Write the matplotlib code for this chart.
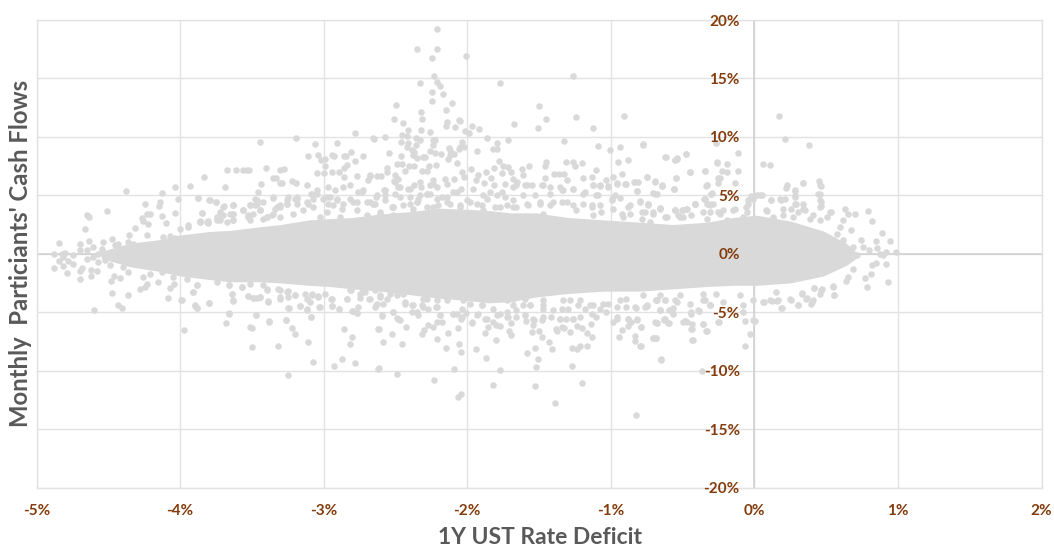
import matplotlib
matplotlib.use("Agg")
import matplotlib.pyplot as plt

# Values, in percent: (1Y UST rate deficit, monthly flows)
left_upper = [(-4.374,5.34),(-4.509,3.63),(-4.65,3.29),(-4.636,3.15),(-4.66,2.15),(-4.84,.95),(-4.695,.87),(-4.632,1.09),(-4.534,1.04),(-4.474,1.26),
(-4.88,0),(-4.825,-.05),(-4.80,.07),(-4.697,.29),(-4.743,-.13),(-4.65,.35),(-4.609,.58),(-4.546,.44),(-4.453,.72),(-4.43,.86),(-4.325,.86),(-4.233,1.58),(-4.116,1.44),(-4.07,1.49),(-4.035,1.38),(-4.36,1.01),(-4.0,2.15),(-3.942,2.29),(-3.861,2.8),(-3.803,2.8),(-3.745,2.86),(-3.71,3.29),(-3.629,3.43),(-3.629,4.14),(-3.559,3.72),(-3.513,4.14),(-3.629,2.86),(-3.525,3.15),(-3.443,3.72),(-3.397,3.15),(-3.327,4.0),(-3.258,4.29),(-3.188,4.71),
(-3.831,6.54),(-3.929,5.80),(-4.035,5.71),(-4.123,5.23),(-4.017,4.69),(-4.14,4.4),(-4.149,4.12),(-4.242,4.29),(-4.209,3.43),(-4.228,3.43),(-4.265,3.09),(-4.26,2.8),(-4.221,2.58),(-4.128,3.2),(-4.10,2.63),(-4.033,3.49),(-4.311,2.23),(-4.358,1.58),(-3.873,4.77),(-3.794,4.63),(-3.75,4.46),(-3.85,3.52),(-3.685,5.68),(-3.671,7.2),(-3.608,7.2),(-3.559,7.2),(-3.536,7.14),(-3.518,7.2),(-3.446,9.53),(-3.193,9.88),(-3.058,9.42),(-2.905,9.48),(-2.782,10.33),(-2.652,9.82),(-3.399,7.31),(-3.304,7.2),(-3.276,7.22),(-3.35,6.51),(-3.334,6.51),(-3.304,6.08),(-3.29,6.05),(-3.439,6.0),(-3.455,5.28),(-3.22,6.22),(-3.193,6.08),(-3.109,8.34),(-3.037,8.42),(-3.021,8.0),(-2.99,8.1),(-2.99,7.54),(-2.944,8.48),(-2.93,8.39),(-2.858,8.34),(-2.842,8.39),(-2.81,8.73),(-2.728,8.34),(-2.782,7.91),(-2.835,7.62),(-2.86,7.37),(-2.891,7.0),(-2.94,7.02),(-3.0,6.88),(-3.049,6.91),(-3.113,5.85),(-2.677,6.71),(-2.689,6.34),(-2.765,6.63),(-2.858,6.57),
(-3.861,2.72),(-3.815,2.72),(-3.745,3.15),(-3.722,2.86),(-3.698,4.0),(-3.629,4.14),(-3.652,3.43),(-3.559,3.72),(-3.478,4.14),(-3.443,3.72),(-3.478,4.71),(-3.397,3.15),(-3.35,3.43),(-3.304,4.0),(-3.257,4.29),(-3.35,4.86),(-3.246,4.86),(-3.188,4.86),(-3.118,4.43),(-3.072,4.71),(-3.049,5.43),(-3.09,5.14),(-2.979,4.86),(-2.967,5.71),(-2.921,5.43),(-2.909,4.71),(-2.933,4.14),(-2.863,4.29),(-2.863,5.71),(-2.816,5.86),(-2.793,4.43),(-2.724,5.43),(-2.758,5.29),(-2.677,4.43),(-2.642,4.29),(-2.631,5.0),(-2.573,5.43),(-2.515,4.0),(-2.468,5.71),(-2.503,6.14),(-2.399,5.57),(-2.352,4.43),(-2.283,5.14),(-2.213,5.71),(-2.236,6.28),(-2.143,4.43)]

left_lower = [(-4.88,-1.25),(-4.84,-.59),(-4.813,-1.05),(-4.79,-1.62),(-4.697,-2.13),(-4.697,-1.47),(-4.685,-1.19),(-4.618,-1.36),(-4.581,-1.44),(-4.62,-1.93),(-4.483,-2.33),(-4.46,-1.87),(-4.416,-2.04),(-4.472,-3.35),(-4.36,-3.55),(-4.597,-4.78),(-4.435,-4.35),(-4.402,-4.64),(-4.28,-3.04),(-4.233,-2.56),(-4.244,-2.84),(-4.151,-2.41),(-4.084,-3.81),(-4.07,-2.9),(-4.042,-2.61),(-3.991,-3.98),(-3.975,-6.49),(-3.908,-3.30),(-3.896,-4.41),(-3.88,-4.67),(-3.796,-4.18),(-3.659,-5.09),(-3.678,-5.95),(-3.638,-3.44),(-3.629,-4.04),(-3.529,-3.58),(-3.471,-5.27),(-3.51,-6.24),(-3.497,-6.38),(-3.497,-7.97),(-3.378,-5.81),(-3.316,-7.86),(-3.26,-5.69),(-3.218,-6.35),(-3.202,-6.89),(-3.251,-10.4),(-3.111,-7.58),(-3.072,-9.29),(-3.09,-5.41),(-2.858,-6.46),(-2.803,-7.09),(-2.819,-7.69),(-2.87,-8.97),(-2.93,-9.57),(-2.784,-9.31),(-2.62,-9.83),(-2.62,-6.46),(-2.798,-4.92),(-2.768,-5.09),(-2.891,-4.75),(-2.94,-4.44),(-3.025,-4.58),(-3.118,-4.78),(-3.165,-4.5),(-3.244,-4.67),(-3.388,-4.1),(-3.443,-3.7),(-3.467,-3.78),(-3.49,-3.75),
(-4.743,-.85),(-4.813,-.28),(-4.778,-.65),(-4.65,-.42),(-4.569,.01),(-4.523,-.56),(-4.604,-.28),(-4.5,-.2),(-4.45,-.3),(-4.488,-.99),(-4.569,-.70),(-4.395,-1.13),(-4.36,-1.56),(-4.256,-1.99),(-4.209,-1.7),(-4.128,-1.56),(-4.047,-1.99),(-3.954,-2.13),(-3.884,-2.7),(-3.745,-2.41),(-3.659,-2.7),(-3.571,-2.84),(-3.513,-2.56),(-3.42,-2.7),(-3.397,-3.07),(-3.304,-3.13),(-3.258,-3.27),(-3.304,-3.84),(-3.2,-3.55),(-3.118,-3.84),(-3.083,-3.55),(-3.037,-3.7),(-2.944,-3.84),(-2.99,-3.41),(-2.84,-3.84),(-2.817,-3.13),(-2.747,-3.41),(-2.712,-3.27),(-2.677,-3.9),(-2.643,-3.13)]

middle_upper = [(-2.209,19.26),(-2.351,17.49),(-2.209,17.55),(-2.244,16.78),(-2.01,16.89),(-2.23,15.18),(-2.332,14.64),(-2.209,14.73),(-2.188,14.35),(-1.773,14.58),(-1.26,15.24),(-2.244,13.84),(-2.167,13.7),(-2.244,13.1),(-2.109,12.9),(-2.499,12.76),(-2.151,12.33),(-2.321,12.13),(-2.314,11.53),(-2.509,11.56),(-2.45,11.22),(-2.139,11.28),(-2.149,10.96),(-2.056,11.45),(-2.051,11.33),(-2.084,10.82),(-1.965,10.96),(-1.921,10.7),(-2.016,10.53),(-1.991,10.36),(-1.675,11.08),(-1.499,12.64),(-1.448,11.53),(-1.506,10.79),(-1.239,11.73),(-1.123,10.79),(-.909,11.76),(-2.411,10.59),(-2.321,10.59),(-2.258,10.45),(-2.457,10.19),(-2.418,10.05),(-2.576,10.02),(-2.655,9.88),(-2.36,9.91),(-2.33,9.76),(-2.46,9.59),(-2.411,9.51),(-2.237,9.71),(-2.221,9.74),(-2.237,9.34),(-1.861,9.88),(-1.719,9.76),(-1.794,9.48),(-1.329,9.65),(-2.035,9.56),(-2.021,9.14),(-2.056,9.0),(-2.047,9.14),(-2.128,9.08),(-2.121,8.85),(-2.355,9.28),(-2.418,9.14),(-2.383,8.91),(-2.369,8.71),(-1.817,8.99),(-1.791,8.94),(-1.931,8.79),(-2.258,8.79),(-2.223,8.62),(-2.186,8.57),(-2.548,8.65),(-2.46,8.34),(-2.381,8.42),(-2.307,8.28),(-2.295,8.28),(-2.353,8.2),(-2.121,8.42),(-2.093,8.57),(-2.133,8.14),(-2.07,7.8),(-1.78,7.97),(-1.086,9.22),(-1.007,8.88),(-.939,9.11),(-.775,9.34),(-.264,9.51),(-.473,8.57),(-.621,8.31),(-.538,8.2),(-.552,8.02),(-.949,7.88),(-.879,8.05),(-1.315,7.88),(-1.26,7.85),(-1.248,7.48),(-1.199,7.74),(-1.45,7.85),(-1.455,7.54),(-1.568,7.51),(-1.617,7.28),(-1.10,7.2),(-.925,6.86),(-.259,7.83),(-.447,7.03),(-.343,7.11),(-.747,6.6),(-.547,6.46),(-.689,6.2),(-.642,5.83),(-.559,5.57),(-.334,5.83),(-.252,6.51),(-.299,5.15),(-.895,5.97),(-.837,6.14),(-.809,6.11),(-.816,5.34),(-.983,6.6),(-1.03,6.34),(-1.13,6.54),(-1.076,5.77),(-1.127,5.91),(-1.016,5.77),(-.96,5.97),(-1.192,6.51),(-1.399,6.8),(-1.362,6.86),(-1.325,6.86),(-1.61,6.77),(-1.715,7.43),(-1.75,7.51),(-1.696,7.0),(-1.68,6.43),(-1.652,6.14),(-1.455,6.49),(-1.308,6.34),(-1.975,7.23),(-2.033,7.0),(-2.021,6.57),(-1.866,7.0),(-1.812,7.34),(-1.761,6.94),(-1.831,6.48),(-1.94,6.29),(-1.924,6.77),(-1.884,6.06),(-1.814,5.91),(-1.738,6.0),(-2.557,7.0),(-2.557,7.34),(-2.627,6.66),(-2.601,6.66),(-2.678,6.63),(-2.504,6.71),(-2.481,6.43),(-2.511,6.2),(-2.492,7.71),(-2.457,7.71),(-2.434,7.06),(-2.404,7.51),(-2.369,7.51),(-2.318,7.06),(-2.279,7.06),(-2.265,7.53),(-2.214,7.57),(-2.33,6.14),(-2.32,5.74),(-2.237,6.0),(-2.26,5.86),(-2.156,6.43),(-2.144,5.97),(-2.093,6.43),(-2.369,5.89),(-2.481,5.72),(-2.411,5.57),(-2.578,5.43),
(-2.632,4.86),(-2.574,5.0),(-2.504,5.14),(-2.399,4.86),(-2.33,5.0),(-2.26,5.14),(-2.179,4.86),(-2.098,5.29),(-2.04,5.57),(-1.958,5.57),(-1.889,5.0),(-1.842,5.29),(-1.761,5.29),(-1.68,5.72),(-1.599,5.86),(-1.552,5.86),(-1.482,5.86),(-1.425,5.72),(-1.343,5.43),(-1.262,5.57),(-1.181,5.29),(-1.1,5.0),(-.995,4.72),(-.937,4.77),(-.867,4.15),(-.798,4.49),(-.74,4.2),(-.658,3.95),(-.554,3.72),(-.496,3.72),(-.415,4.23),(-.345,4.69),(-.287,4.29),
(-2.608,3.58),(-2.527,4.0),(-2.446,4.15),(-2.353,4.43),(-2.283,4.0),(-2.202,4.15),(-2.121,4.29),(-2.051,4.0),(-1.982,4.43),(-1.9,4.15),(-1.808,4.0),(-1.726,4.15),(-1.657,4.0),(-1.575,4.15),(-1.494,4.29),(-1.425,4.15),(-1.343,4.43),(-1.262,4.15),(-1.192,4.29),(-1.134,4.0),(-1.065,3.58),(-.983,3.86),(-.925,3.43),(-.786,3.0),(-.705,3.58),(-.624,3.15),(-.531,3.29),(-.438,3.29),(-.31,3.58)]

middle_lower = [(-2.611,-9.79),(-2.492,-10.25),(-2.23,-10.76),(-2.093,-9.82),(-2.04,-12.02),(-2.065,-12.25),(-1.821,-11.22),(-1.773,-9.94),(-1.87,-8.88),(-1.94,-8.17),(-2.044,-8.37),(-2.054,-7.68),(-2.151,-8.05),(-2.209,-7.26),(-2.59,-7.51),(-2.613,-6.43),(-2.453,-7.74),(-2.525,-6.83),(-2.423,-6.23),(-2.314,-6.83),(-2.30,-6.49),(-2.27,-6.09),(-2.237,-6.29),(-2.135,-6.74),(-2.063,-6.32),(-2.592,-5.29),(-2.492,-5.52),(-2.469,-5.66),(-2.209,-5.83),(-2.174,-5.86),(-2.04,-5.55),(-1.968,-5.89),(-1.873,-5.55),(-1.856,-6.26),(-1.877,-6.74),(-1.819,-5.83),(-1.80,-6.09),(-1.773,-6.14),(-1.798,-7.37),(-1.708,-6.6),(-1.696,-6.97),(-1.694,-5.92),(-1.587,-8.51),(-1.529,-8.08),(-1.51,-9.0),(-1.52,-9.65),(-1.527,-11.33),(-1.387,-12.73),(-1.202,-11.02),(-1.269,-9.62),(-1.269,-8.05),(-1.236,-8.11),(-1.216,-7.88),(-1.169,-7.88),(-1.408,-8.17),(-1.427,-7.54),(-1.478,-7.09),(-1.501,-6.63),(-1.548,-6.66),(-1.54,-6.12),(-1.592,-5.72),(-1.536,-5.63),(-1.476,-5.63),(-1.385,-6.4),(-1.378,-6.6),(-1.343,-6.26),(-1.325,-6.32),(-1.281,-6.71),(-1.234,-6.2),(-1.202,-6.37),(-1.169,-6.74),(-1.13,-7.11),(-1.139,-6.0),(-.946,-7.11),(-.923,-6.49),(-.879,-6.2),(-.879,-5.6),(-.856,-5.86),(-.788,-6.23),(-.816,-5.63),(-.83,-7.03),(-.828,-7.43),(-.795,-7.88),(-.705,-7.17),(-.682,-7.17),(-.677,-5.94),(-.628,-5.63),(-.598,-5.92),(-.647,-9.05),(-.821,-13.76),(-.368,-9.99),(-.431,-7.37),(-.438,-6.46),(-.334,-6.63),(-.361,-5.97),(-.484,-5.75),(-.466,-5.83),(-.252,-5.83),(-.988,-5.83),(-.96,-5.55),
(-2.608,-3.69),(-2.539,-3.41),(-2.632,-4.4),(-2.516,-4.98),(-2.388,-4.98),(-2.341,-5.26),(-2.306,-4.55),(-2.434,-4.26),(-2.214,-4.55),(-2.19,-5.26),(-2.098,-5.12),(-2.07,-5.12),(-2.005,-5.06),(-1.935,-5.26),(-1.9,-4.4),(-1.796,-5.26),(-1.726,-4.98),(-1.715,-5.4),(-1.657,-5.4),(-1.599,-5.26),(-1.68,-4.4),(-1.564,-4.4),(-1.471,-4.69),(-1.413,-5.4),(-1.355,-5.55),(-1.309,-5.55),(-1.262,-5.55),(-1.343,-4.69),(-1.216,-5.4),(-1.181,-4.69),(-1.1,-5.4),(-1.03,-4.98),(-1.123,-4.4),(-.891,-4.55),(-.826,-4.6),(-.751,-4.49),(-.658,-4.78),(-.577,-4.89),(-.542,-4.12),(-.438,-5.12),(-.387,-4.92),(-.31,-4.4),(-.345,-3.98),(-.682,-3.98),(-.96,-4.55),(-1.285,-3.98),(-1.471,-3.98),(-1.61,-4.4),(-1.726,-3.98),(-2.028,-3.98),(-2.376,-4.4),(-2.283,-3.83),(-2.585,-4.26),(-2.446,-3.41)]

right_points = [(.169,11.79),(.213,9.82),(.378,9.34),(.062,7.71),(.106,7.63),(-.112,8.65),(-.189,7.68),(-.258,7.8),(-.474,8.54),(-.618,8.28),(-.553,8.0),(-.539,8.14),(-.774,9.37),(-.268,9.48),(-.449,7.03),(-.344,7.08),(-.228,7.08),(-.193,7.03),(-.115,7.11),(-.746,6.6),(-.69,6.17),(-.641,5.83),(-.546,6.46),(-.558,5.57),(-.333,5.86),(-.24,6.46),(-.252,6.06),(-.135,6.06),(.34,6.03),(.452,6.26),(.461,5.77),(.44,5.15),(.222,5.66),(.28,5.37),(.285,4.92),(.461,4.46),(.456,3.98),(.287,4.29),(.178,4.72),(.213,4.69),(.113,4.63),(.015,5.06),(.055,5.0),(-.02,4.95),(-.043,4.58),(-.059,4.0),(-.298,5.2),(-.349,4.69),(-.704,5.23),(-.676,5.15),(-.741,4.29),(-.658,3.95),(-.553,3.72),(-.507,3.72),(-.472,3.86),(-.414,4.23),(-.31,4.23),(-.217,3.72),(-.135,3.86),(.085,3.66),(.252,3.81),(.34,3.86),(.633,3.81),(.652,3.44),(.70,3.44),(.791,3.69),(.531,3.58),(.816,2.78),(.891,1.81),(.946,1.13),(.844,1.1),(.851,.5),(.99,.16),(.916,.16),(.897,-.07),(.874,-.05),(.80,.3),(.74,1.15),(.675,2.0),(.92,-.84),(.846,-.79),(.816,-.98),(.932,-2.41),(.786,-2.87),(.81,-1.7),(.772,-2.04),(.689,-1.27),(.654,-1.98),(.638,-2.32),(.556,-3.52),(.547,-2.84),(.468,-3.04),(.456,-3.47),(.415,-2.9),(.41,-3.92),(.399,-4.15),(.364,-3.81),(.334,-3.35),(.306,-4.35),(.252,-3.92),(.192,-4.61),(.159,-4.06),(.12,-4.06),(.067,-4.12),(.004,-5.75),(-.063,-5.77),(-.031,-6.89),(-.068,-7.91),(-.247,-5.83),(-.333,-6.63),(-.361,-5.97),(-.437,-6.03),(-.437,-6.46),(-.484,-5.75),(-.428,-7.37),(-.6,-5.92),(-.63,-5.58),(-.676,-5.92),(-.704,-7.17),(-.686,-7.17),(-.788,-6.26),(-.792,-7.91),(-.648,-8.97),(-.388,-4.89),(-.658,-4.78),(-.593,-4.83),(-.565,-4.61),(-.553,-3.98),(-.62,-3.98),(-.681,-3.98),(-.762,-4.55),(-.31,-4.41),(-.077,-4.41),
(.689,.58),(.619,1.15),(.573,1.72),(.503,3.15),(.41,3.29),(.619,2.86),(.596,2.3),(.758,.58),(.712,-.13),(.13,3.15),(.305,3.58),(.387,3.01),(.201,3.29),(-.054,3.58),(-.24,3.44),(-.356,3.58),(-.518,3.15),(-.611,3.15),(-.762,3.58),(-.333,4.29)]

upper_band_left = [(-3.872,4.81),(-3.796,4.64),(-3.749,4.44),(-3.849,3.52),(-3.694,4.07),(-3.633,4.21),(-3.721,3.58),(-3.698,3.3),(-3.745,3.01),(-3.629,3.44),(-3.629,2.93),(-3.559,3.72),(-3.513,4.15),(-3.466,4.58),(-3.466,4.24),(-3.424,4.44),(-3.524,3.3),(-3.489,3.44),(-3.443,3.72),(-3.362,3.3),(-3.338,3.87),(-3.304,4.15),(-3.257,4.58),(-3.35,4.81),(-3.199,4.72),(-3.188,4.29),(-3.141,3.72),(-3.106,4.29),(-3.071,4.01),(-3.048,5.15),(-3.083,5.15),(-3.002,4.72),(-2.967,4.29),(-2.955,4.86),(-2.909,4.58),(-2.874,3.87),(-2.816,4.72),(-2.77,4.44),(-2.735,5.29),(-2.7,4.44),(-2.654,4.29),(-2.572,4.58),(-2.514,4.01),(-2.468,4.86),(-2.398,4.29),(-2.34,4.72),(-2.282,5.15),(-2.213,4.72),(-2.143,4.86),(-2.073,5.29),(-2.004,4.58),(-1.934,4.29),(-1.864,4.72),(-1.795,5.0),(-1.737,4.86),(-2.77,3.72),(-2.7,3.3),(-2.607,3.44),(-2.514,3.3),(-2.375,3.87),(-2.236,4.01),(-2.05,4.15),(-1.888,3.72),(-1.772,4.01),(-2.979,3.58),(-2.886,3.15),(-3.025,3.15),(-3.211,3.44),(-3.304,3.15),(-3.42,3.01),(-3.513,2.87),(-3.675,2.73),(-3.861,2.73),(-3.803,2.64),(-3.942,2.44)]

upper_band_right = [(-1.657,5.86),(-1.587,5.86),(-1.471,5.86),(-1.355,5.72),(-1.262,5.58),(-1.123,5.86),(-1.076,5.86),(-1.018,5.72),(-.96,6.06),(-.898,5.95),(-.833,6.15),(-.816,5.35),(-.693,5.15),(-.642,5.86),(-.559,5.58),(-.333,5.86),(-.299,5.15),(-1.61,5.0),(-1.529,5.0),(-1.424,5.15),(-1.332,5.43),(-1.192,5.15),(-1.088,5.0),(-.972,5.0),(-1.587,4.29),(-1.494,4.44),(-1.401,4.44),(-1.308,4.44),(-1.134,4.15),(-1.076,4.15),(-.995,4.58),(-.879,4.01),(-.798,4.44),(-.739,4.29),(-.658,3.87),(-.867,3.44),(-.786,3.58),(-.705,3.44),(-.554,3.72),(-.473,3.87),(-.415,4.29),(-.345,4.72),(-.31,4.15),(-.252,3.58),(-.148,3.72),(-.043,4.29),(-.008,4.72),(.038,5.0),(.119,4.58),(.189,4.58),(.282,4.86),(.282,4.29),(.456,4.58),(.467,4.07),(.34,4.29),(.084,3.72),(.2,3.87),(.351,3.72),(.525,3.58),(-.078,3.15),(.131,3.01),(.27,3.15),(.456,2.87),(-1.68,4.0),(-1.68,4.58),(-1.471,3.44),(-1.239,3.72),(-1.123,3.3),(-.914,3.15),(-.728,2.73),(-.496,3.15),(-.333,3.01),(-.194,2.87),(.224,5.86),(.34,6.06),(.456,5.86),(.456,5.15),(.282,5.43)]

lower_band_left = [(-3.988,-3.98),(-3.907,-3.27),(-3.879,-2.7),(-3.896,-4.46),(-3.879,-4.63),(-3.796,-4.18),(-3.64,-3.41),(-3.629,-3.98),(-3.659,-2.7),(-3.566,-2.84),(-3.526,-3.61),(-3.485,-3.78),(-3.443,-3.69),(-3.385,-4.06),(-3.659,-5.12),(-3.471,-5.26),(-3.378,-5.77),(-3.26,-5.66),(-3.396,-2.98),(-3.315,-2.98),(-3.246,-3.21),(-3.304,-3.69),(-3.246,-3.69),(-3.199,-3.55),(-3.13,-3.41),(-3.083,-3.41),(-3.037,-3.61),(-3.095,-4.12),(-3.118,-4.69),(-3.164,-4.46),(-3.246,-4.63),(-3.03,-4.55),(-3.09,-5.38),(-2.951,-3.89),(-2.939,-4.46),(-2.89,-4.69),(-2.839,-3.84),(-2.812,-3.12),(-2.735,-3.27),(-2.747,-3.78),(-2.682,-3.89),(-2.8,-4.89),(-2.77,-5.06),(-2.758,-4.55),(-2.63,-4.26),(-2.642,-4.55),(-2.607,-3.55),(-2.561,-3.84),(-2.491,-3.55),(-2.591,-5.26),(-2.514,-4.98),(-2.48,-5.55),(-2.433,-4.12),(-2.387,-4.41),(-2.352,-4.98),(-2.317,-4.41),(-2.27,-4.69),(-2.213,-3.98),(-2.213,-4.55),(-2.189,-5.26),(-2.097,-5.12),(-2.038,-4.69),(-2.038,-5.4),(-1.969,-5.83),(-1.922,-5.12),(-1.899,-4.41),(-1.864,-5.55),(-1.772,-5.12),(-1.98,-4.26),(-2.305,-3.84),(-2.143,-3.98),(-1.818,-4.69),(-1.725,-5.4)]

lower_band_right = [(-1.68,-3.89),(-1.599,-3.89),(-1.657,-4.83),(-1.599,-5.26),(-1.541,-5.55),(-1.471,-5.4),(-1.355,-5.55),(-1.262,-5.55),(-1.471,-4.41),(-1.401,-4.83),(-1.297,-4.69),(-1.227,-4.41),(-1.134,-5.12),(-1.076,-4.69),(-1.146,-4.41),(-.96,-5.4),(-.879,-5.55),(-.816,-5.55),(-.693,-5.83),(-.624,-5.55),(-1.018,-4.26),(-.937,-3.98),(-.833,-4.55),(-.751,-4.41),(-.658,-4.83),(-.566,-5.12),(-.682,-3.98),(-.624,-3.98),(-.45,-4.26),(-.496,-5.83),(-.438,-4.98),(-.391,-4.83),(-.357,-3.98),(-.31,-4.41),(-.217,-4.12),(-.078,-4.98),(-.007,-5.69),(-.007,-3.98),(.061,-4.12),(.107,-3.98),(.166,-3.98),(.189,-4.61),(.247,-3.89),(.305,-4.35),(.363,-3.84),(.398,-4.26),(.414,-2.9),(.467,-3.12),(.549,-2.78),(.553,-3.49),(.334,-3.41),(.154,-3.27),(-1.564,-4.41),(-1.332,-3.98),(-1.215,-3.98),(-1.053,-4.26),(-.891,-3.84),(-.775,-3.55),(-.658,-3.55),(-.519,-3.55),(-.357,-3.41),(-.264,-3.41),(-.101,-3.55)]

# Edges of the solid region where the points merge
core_x = [-4.55,-4.35,-4.15,-4.0,-3.8,-3.65,-3.45,-3.3,-3.1,-2.96,-2.8,-2.61,-2.4,-2.2,-2.0,-1.85,-1.7,-1.52,-1.3,-1.05,-.8,-.565,-.33,-.15,.015,.25,.48,.64,.72]
core_upper = [.2,.9,1.2,1.6,1.9,2.0,2.3,2.5,2.9,3.0,3.1,3.4,3.6,3.9,3.8,3.7,3.5,3.5,3.1,2.9,2.7,2.5,2.7,3.1,3.3,2.8,1.95,.9,0]
core_lower = [-.4,-1.1,-1.5,-1.9,-2.2,-2.4,-2.4,-2.5,-2.7,-2.8,-3.0,-3.2,-3.5,-3.8,-4.0,-4.2,-4.1,-3.7,-3.4,-3.2,-3.2,-3.0,-2.8,-2.7,-2.7,-2.5,-1.9,-1.0,-.3]

x_ticks = [-5,-4,-3,-2,-1,0,1,2]
y_ticks = [-20,-15,-10,-5,0,5,10,15,20]
x_title = "1Y UST Rate Deficit"
y_title = "Monthly  Particiants' Cash Flows"

GREY = "#d9d9d9"; GRID = "#e2e2e2"; AXIS = "#cfcfcf"; BROWN = "#843c0c"; TITLE = "#595959"
plt.rcParams["font.family"] = ["Lato", "DejaVu Sans"]

W, H = 1054, 548
fig = plt.figure(figsize=(W/100, H/100), dpi=100, facecolor="white")
rect = [36.5/W, 1-487.5/H, 1005/W, 467.5/H]
ax = fig.add_axes(rect)
ax.set_xlim(-5, 2); ax.set_ylim(-20, 20)
ax.set_xticks(x_ticks); ax.set_yticks(y_ticks)
ax.grid(True, color=GRID, lw=1.0)
ax.set_axisbelow(True)
ax.tick_params(length=0, labelbottom=False, labelleft=False)
for s in ax.spines.values():
    s.set_color(GRID); s.set_linewidth(1.0)
ax.axvline(0, color=AXIS, lw=1.1, zorder=1)
ax.axhline(0, color=AXIS, lw=1.1, zorder=1)

pts = (left_upper + left_lower + middle_upper + middle_lower + right_points
       + upper_band_left + upper_band_right + lower_band_left + lower_band_right)
ax.fill_between(core_x, core_lower, core_upper, color=GREY, lw=0, zorder=2)
ax.scatter([p[0] for p in pts], [p[1] for p in pts], s=22, color=GREY, lw=0, zorder=3)

top = fig.add_axes(rect, frameon=False)
top.patch.set_alpha(0)
top.set_xlim(-5, 2); top.set_ylim(-20, 20)
top.set_xticks(x_ticks); top.set_yticks(y_ticks)
top.set_xticklabels([f"{t}%" for t in x_ticks])
top.set_yticklabels([f"{t}%" for t in y_ticks])
top.spines["left"].set_position(("data", 0))
top.spines["left"].set_visible(False)
top.tick_params(length=0, labelsize=11, labelcolor=BROWN)
top.tick_params(axis="y", pad=10.5)
top.tick_params(axis="x", pad=12)
for lab in top.get_xticklabels() + top.get_yticklabels():
    lab.set_fontweight("bold")

fig.text(539.5/W, 1-538/H, x_title, ha="center", va="center", fontsize=16.5, fontweight="bold", color=TITLE)
fig.text(21/W, 1-253/H, y_title, ha="center", va="center", rotation=90, fontsize=17.2, fontweight="bold", color=TITLE)

fig.savefig("out.png", dpi=100)
